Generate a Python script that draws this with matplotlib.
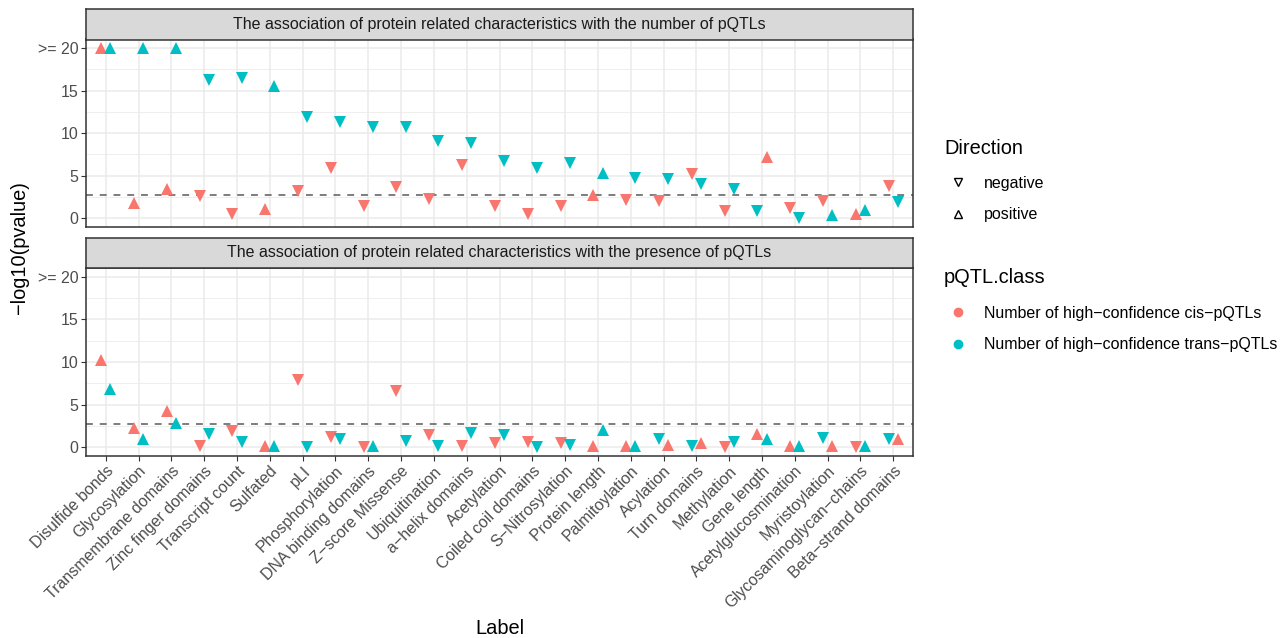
import matplotlib
matplotlib.use('Agg')
import matplotlib.pyplot as plt
from matplotlib.lines import Line2D

plt.rcParams['font.family'] = ['Liberation Sans', 'DejaVu Sans']

CIS_COLOR = '#F8766D'
TRANS_COLOR = '#00BFC4'

LABELS = [
    'Disulfide bonds', 'Glycosylation', 'Transmembrane domains',
    'Zinc finger domains', 'Transcript count', 'Sulfated', 'pLI',
    'Phosphorylation', 'DNA binding domains', 'Z\u2212score Missense',
    'Ubiquitination', 'a\u2212helix domains', 'Acetylation',
    'Coiled coil domains', 'S\u2212Nitrosylation', 'Protein length',
    'Palmitoylation', 'Acylation', 'Turn domains', 'Methylation',
    'Gene length', 'Acetylglucosmination', 'Myristoylation',
    'Glycosaminoglycan\u2212chains', 'Beta\u2212strand domains',
]

# -log10(pvalue), capped at 20; direction 'n' = negative, 'p' = positive
number_cis = [20, 1.84, 3.48, 2.6, 0.47, 1.05, 3.25, 5.94, 1.44, 3.7, 2.3,
              6.25, 1.44, 0.47, 1.44, 2.73, 2.15, 2.0, 5.16, 0.9, 7.15, 1.14,
              2.03, 0.55, 3.79]
number_cis_dir = ['p', 'p', 'p', 'n', 'n', 'p', 'n', 'n', 'n', 'n', 'n',
                  'n', 'n', 'n', 'n', 'p', 'n', 'n', 'n', 'n', 'p', 'n',
                  'n', 'p', 'n']
number_trans = [20, 20, 20, 16.2, 16.5, 15.5, 11.9, 11.3, 10.67, 10.67, 9.1,
                8.83, 6.68, 5.94, 6.5, 5.36, 4.69, 4.57, 4.07, 3.48, 0.9, 0.08,
                0.39, 1.02, 1.96]
number_trans_dir = ['p', 'p', 'p', 'n', 'n', 'p', 'n', 'n', 'n', 'n', 'n',
                    'n', 'n', 'n', 'n', 'p', 'n', 'n', 'n', 'n', 'n', 'n',
                    'p', 'p', 'n']

presence_cis = [10.23, 2.3, 4.26, 0.08, 1.95, 0.08, 7.9, 1.25, 0.0, 6.64,
                1.44, 0.08, 0.54, 0.62, 0.47, 0.15, 0.08, 0.23, 0.47, 0.0,
                1.56, 0.08, 0.15, 0.0, 1.0]
presence_cis_dir = ['p', 'p', 'p', 'n', 'n', 'p', 'n', 'n', 'n', 'n', 'n',
                    'n', 'n', 'n', 'n', 'p', 'p', 'p', 'p', 'n', 'p', 'p',
                    'p', 'n', 'p']
presence_trans = [6.8, 0.94, 2.81, 1.56, 0.66, 0.08, 0.0, 0.97, 0.08, 0.74,
                  0.08, 1.71, 1.4, 0.0, 0.23, 2.03, 0.08, 0.97, 0.08, 0.62,
                  0.94, 0.08, 1.05, 0.15, 0.97]
presence_trans_dir = ['p', 'p', 'p', 'n', 'n', 'p', 'n', 'n', 'p', 'n', 'n',
                      'n', 'n', 'n', 'n', 'p', 'p', 'n', 'n', 'n', 'p', 'p',
                      'n', 'p', 'n']

THRESHOLD = 2.7
DODGE = 0.14

TITLES = [
    'The association of protein related characteristics with the number of pQTLs',
    'The association of protein related characteristics with the presence of pQTLs',
]

W, H = 1286, 638
fig = plt.figure(figsize=(W / 100, H / 100), dpi=100)


def fx(px):
    return px / W


def fy(py):
    return 1 - py / H


left, right = 86, 913
ax1 = fig.add_axes([fx(left), fy(226.7), fx(right - left), (226.7 - 39.5) / H])
st1 = fig.add_axes([fx(left), fy(39.5), fx(right - left), 30.5 / H])
ax2 = fig.add_axes([fx(left), fy(455.7), fx(right - left), (455.7 - 268) / H])
st2 = fig.add_axes([fx(left), fy(268), fx(right - left), 30.5 / H])


def draw_panel(ax, cis, cis_dir, trans, trans_dir, show_x):
    ax.set_facecolor('white')
    n = len(LABELS)
    for i in range(n):
        pts = [(cis_dir[i], 0, cis[i], CIS_COLOR),
               (trans_dir[i], 1, trans[i], TRANS_COLOR)]
        # dodge order: negative before positive, then cis before trans
        pts.sort(key=lambda p: (p[0] != 'n', p[1]))
        for k, (d, _, v, c) in enumerate(pts):
            x = i + 1 + (-DODGE if k == 0 else DODGE)
            ax.plot(x, min(v, 20), marker='v' if d == 'n' else '^',
                    markersize=8, color=c, markeredgewidth=0,
                    linestyle='none', zorder=3)
    ax.axhline(THRESHOLD, color='#5A5A5A', linestyle=(0, (4.5, 4.5)),
               linewidth=1.1, zorder=2)
    ax.set_xlim(0.4, n + 0.6)
    ax.set_ylim(-1, 21)
    ax.set_xticks(range(1, n + 1))
    ax.set_yticks([0, 5, 10, 15, 20])
    ax.set_yticklabels(['0', '5', '10', '15', '>= 20'])
    ax.set_yticks([2.5, 7.5, 12.5, 17.5], minor=True)
    ax.grid(True, which='major', color='#EBEBEB', linewidth=1.1, zorder=0)
    ax.grid(True, which='minor', axis='y', color='#EBEBEB', linewidth=0.55,
            zorder=0)
    ax.set_axisbelow(True)
    ax.tick_params(axis='y', which='minor', length=0)
    ax.tick_params(axis='both', which='major', length=3.5, width=0.8,
                   color='#333333', labelcolor='#4D4D4D', labelsize=11.5,
                   pad=2)
    if show_x:
        ax.set_xticklabels(LABELS, rotation=45, ha='right',
                           rotation_mode='anchor')
    else:
        ax.tick_params(axis='x', length=0, labelbottom=False)
    for s in ax.spines.values():
        s.set_color('#333333')
        s.set_linewidth(1.1)


def draw_strip(ax, title):
    ax.set_facecolor('#D9D9D9')
    ax.set_xticks([])
    ax.set_yticks([])
    for s in ax.spines.values():
        s.set_color('#333333')
        s.set_linewidth(1.1)
    ax.text(0.5, 0.5, title, ha='center', va='center', fontsize=11.5,
            color='#1A1A1A', transform=ax.transAxes)


draw_panel(ax1, number_cis, number_cis_dir, number_trans, number_trans_dir,
           False)
draw_panel(ax2, presence_cis, presence_cis_dir, presence_trans,
           presence_trans_dir, True)
draw_strip(st1, TITLES[0])
draw_strip(st2, TITLES[1])

fig.text(fx(20), fy(248), '\u2212log10(pvalue)', rotation=90, ha='center',
         va='center', fontsize=14.4)
fig.text(fx(499.5), fy(628), 'Label', ha='center', va='center', fontsize=14.4)

# legends: titles as plain text, entries as untitled legends below them
dir_handles = [
    Line2D([], [], marker='v', linestyle='none', markerfacecolor='none',
           markeredgecolor='black', markersize=6, markeredgewidth=1),
    Line2D([], [], marker='^', linestyle='none', markerfacecolor='none',
           markeredgecolor='black', markersize=6, markeredgewidth=1),
]
cls_handles = [
    Line2D([], [], marker='o', linestyle='none', color=CIS_COLOR,
           markersize=6),
    Line2D([], [], marker='o', linestyle='none', color=TRANS_COLOR,
           markersize=6),
]
leg_kw = dict(loc='upper left', frameon=False, fontsize=11.5, borderpad=0,
              borderaxespad=0, handlelength=1.75, handletextpad=0.75,
              labelspacing=1.02)

fig.text(fx(944), fy(154), 'Direction', ha='left', va='baseline',
         fontsize=14.4)
fig.legend(dir_handles, ['negative', 'positive'],
           bbox_to_anchor=(fx(944), fy(176)), **leg_kw)

fig.text(fx(944), fy(283), 'pQTL.class', ha='left', va='baseline',
         fontsize=14.4)
fig.legend(cls_handles,
           ['Number of high\u2212confidence cis\u2212pQTLs',
            'Number of high\u2212confidence trans\u2212pQTLs'],
           bbox_to_anchor=(fx(944), fy(306)), **leg_kw)

fig.savefig('out.png', dpi=100)
